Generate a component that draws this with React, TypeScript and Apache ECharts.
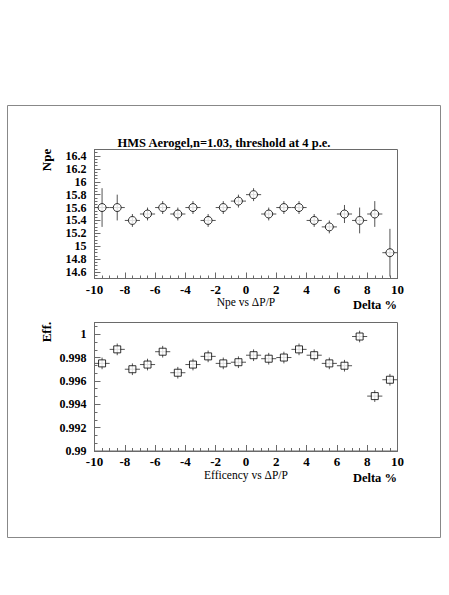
import React, { useEffect, useRef } from "react";
import * as echarts from "echarts";

const binCenters = [-9.5, -8.5, -7.5, -6.5, -5.5, -4.5, -3.5, -2.5, -1.5, -0.5, 0.5, 1.5, 2.5, 3.5, 4.5, 5.5, 6.5, 7.5, 8.5, 9.5];
const binHalfWidth = 0.5;
const npeValues = [15.6, 15.6, 15.4, 15.5, 15.6, 15.5, 15.6, 15.4, 15.6, 15.7, 15.8, 15.5, 15.6, 15.6, 15.4, 15.3, 15.5, 15.4, 15.5, 14.9];
const npeErrors = [0.3, 0.2, 0.1, 0.1, 0.1, 0.1, 0.1, 0.1, 0.1, 0.1, 0.1, 0.1, 0.1, 0.1, 0.1, 0.1, 0.14, 0.2, 0.2, 0.37];
const effValues = [0.9975, 0.9987, 0.9970, 0.9974, 0.9985, 0.9967, 0.9974, 0.9981, 0.9975, 0.9976, 0.9982, 0.9979, 0.9980, 0.9987, 0.9982, 0.9975, 0.9973, 0.9998, 0.9947, 0.9961];
const effErrors = [0.0005, 0.0005, 0.0005, 0.0005, 0.0005, 0.0005, 0.0005, 0.0005, 0.0005, 0.0005, 0.0005, 0.0005, 0.0005, 0.0005, 0.0005, 0.0005, 0.0005, 0.0005, 0.0005, 0.0005];
const npeTickLabels = [14.6, 14.8, 15, 15.2, 15.4, 15.6, 15.8, 16, 16.2, 16.4];
const effTickLabels = [0.99, 0.992, 0.994, 0.996, 0.998, 1];

const titleText = "HMS Aerogel,n=1.03, threshold at 4 p.e.";
const npeAxisName = "Npe";
const effAxisName = "Eff.";
const npeXLabel = "Npe vs \u0394P/P";
const effXLabel = "Efficency vs \u0394P/P";
const deltaLabel = "Delta %";

const FONT = "Liberation Serif";
const AXIS_COLOR = "#6a6a6a";
const ERR_COLOR = "#555";

function errorBarRender(params: any, api: any) {
  const x = api.value(0);
  const y = api.value(1);
  const e = api.value(2);
  const pL = api.coord([x - binHalfWidth, y]);
  const pR = api.coord([x + binHalfWidth, y]);
  const pT = api.coord([x, y + e]);
  const pB = api.coord([x, y - e]);
  const style = { stroke: ERR_COLOR, lineWidth: 1 };
  return {
    type: "group",
    children: [
      { type: "line", shape: { x1: pL[0], y1: pL[1], x2: pR[0], y2: pR[1] }, style },
      { type: "line", shape: { x1: pT[0], y1: pT[1], x2: pB[0], y2: pB[1] }, style },
    ],
  };
}

function xAxisDef(gridIndex: number) {
  return {
    type: "value",
    gridIndex,
    min: -10,
    max: 10,
    interval: 2,
    axisLine: { show: true, onZero: false, lineStyle: { color: AXIS_COLOR, width: 1 } },
    axisTick: { show: true, inside: true, length: 6, lineStyle: { color: AXIS_COLOR } },
    minorTick: { show: true, splitNumber: 4, length: 3, lineStyle: { color: AXIS_COLOR } },
    splitLine: { show: false },
    axisLabel: {
      show: true,
      margin: 4,
      color: "#000",
      fontFamily: FONT,
      fontWeight: "bold",
      fontSize: 13,
      formatter: (v: number) => String(v),
    },
  };
}

function yMainDef(gridIndex: number, min: number, max: number, labels: number[]) {
  return {
    type: "value",
    gridIndex,
    min,
    max,
    position: "left",
    axisLine: { show: true, onZero: false, lineStyle: { color: AXIS_COLOR, width: 1 } },
    axisTick: { show: true, inside: true, length: 6, customValues: labels, lineStyle: { color: AXIS_COLOR } },
    splitLine: { show: false },
    axisLabel: {
      show: true,
      margin: 8,
      color: "#000",
      fontFamily: FONT,
      fontWeight: "bold",
      fontSize: 12,
      lineHeight: 12,
      customValues: labels,
      formatter: (v: number) => String(v),
    },
  };
}

function yMinorDef(gridIndex: number, min: number, max: number, interval: number) {
  return {
    type: "value",
    gridIndex,
    min,
    max,
    interval,
    position: "left",
    axisLine: { show: false, onZero: false },
    axisTick: { show: true, inside: true, length: 3, lineStyle: { color: AXIS_COLOR } },
    splitLine: { show: false },
    axisLabel: { show: false },
  };
}

export default function App() {
  const ref = useRef<HTMLDivElement>(null);
  useEffect(() => {
    if (!ref.current) return;
    const chart = echarts.init(ref.current, null, { renderer: "svg" });
    const npeData = binCenters.map((x, i) => [x, npeValues[i], npeErrors[i]]);
    const effData = binCenters.map((x, i) => [x, effValues[i], effErrors[i]]);
    const option: any = {
      animation: false,
      backgroundColor: "#fff",
      grid: [
        { left: 94.5, top: 149.5, width: 303, height: 129, show: true, borderColor: AXIS_COLOR, borderWidth: 1, backgroundColor: "transparent" },
        { left: 94.5, top: 322.5, width: 303, height: 128.5, show: true, borderColor: AXIS_COLOR, borderWidth: 1, backgroundColor: "transparent" },
      ],
      xAxis: [xAxisDef(0), xAxisDef(1)],
      yAxis: [
        yMainDef(0, 14.5, 16.5, npeTickLabels),
        yMinorDef(0, 14.5, 16.5, 0.05),
        yMainDef(1, 0.99, 1.001, effTickLabels),
        yMinorDef(1, 0.99, 1.001, 0.002 / 3),
      ],
      series: [
        { type: "custom", xAxisIndex: 0, yAxisIndex: 0, data: npeData, renderItem: errorBarRender, clip: true, silent: true },
        {
          type: "scatter", xAxisIndex: 0, yAxisIndex: 0, data: npeData, symbol: "circle", symbolSize: 8,
          itemStyle: { color: "#fff", borderColor: "#000", borderWidth: 1 }, silent: true,
        },
        { type: "custom", xAxisIndex: 1, yAxisIndex: 2, data: effData, renderItem: errorBarRender, clip: true, silent: true },
        {
          type: "scatter", xAxisIndex: 1, yAxisIndex: 2, data: effData, symbol: "rect", symbolSize: 7,
          itemStyle: { color: "#fff", borderColor: "#000", borderWidth: 1 }, silent: true,
        },
      ],
      graphic: [
        { type: "rect", shape: { x: 7.5, y: 105.5, width: 433, height: 432 }, style: { fill: "none", stroke: "#888", lineWidth: 1 }, silent: true },
        {
          type: "text", x: 224, y: 143,
          style: { text: titleText, fontFamily: FONT, fontWeight: "bold", fontSize: 12.5, fill: "#000", textAlign: "center", textVerticalAlign: "middle" },
        },
        {
          type: "text", x: 46.5, y: 160, rotation: Math.PI / 2,
          style: { text: npeAxisName, fontFamily: FONT, fontWeight: "bold", fontSize: 13, fill: "#000", textAlign: "center", textVerticalAlign: "middle" },
        },
        {
          type: "text", x: 46.5, y: 332, rotation: Math.PI / 2,
          style: { text: effAxisName, fontFamily: FONT, fontWeight: "bold", fontSize: 13, fill: "#000", textAlign: "center", textVerticalAlign: "middle" },
        },
        {
          type: "text", x: 246, y: 302,
          style: { text: npeXLabel, fontFamily: FONT, fontWeight: "normal", fontSize: 11.5, fill: "#000", textAlign: "center", textVerticalAlign: "middle" },
        },
        {
          type: "text", x: 246, y: 475,
          style: { text: effXLabel, fontFamily: FONT, fontWeight: "normal", fontSize: 11.5, fill: "#000", textAlign: "center", textVerticalAlign: "middle" },
        },
        {
          type: "text", x: 397, y: 305,
          style: { text: deltaLabel, fontFamily: FONT, fontWeight: "bold", fontSize: 12.5, fill: "#000", textAlign: "right", textVerticalAlign: "middle" },
        },
        {
          type: "text", x: 397, y: 478,
          style: { text: deltaLabel, fontFamily: FONT, fontWeight: "bold", fontSize: 12.5, fill: "#000", textAlign: "right", textVerticalAlign: "middle" },
        },
      ],
    };
    chart.setOption(option);
    return () => chart.dispose();
  }, []);
  return (
    <div
      ref={ref}
      style={{ position: "absolute", left: 0, top: 0, width: 449, height: 595, background: "#fff" }}
    />
  );
}
